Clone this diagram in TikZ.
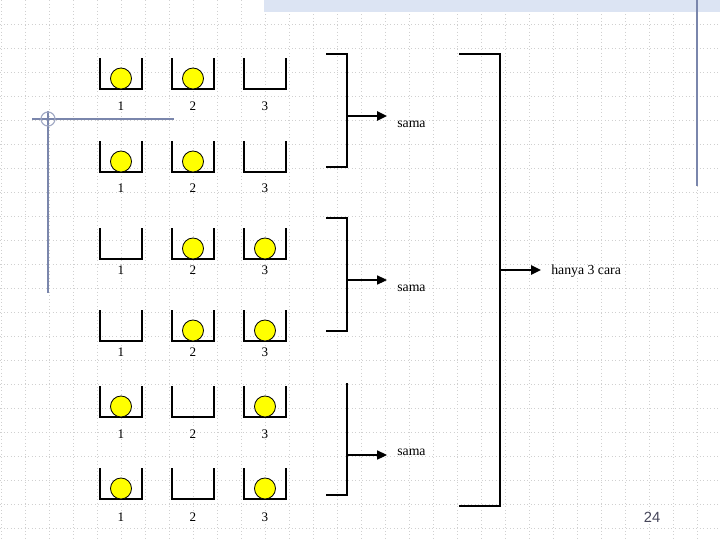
\documentclass[tikz,border=0pt]{standalone}
\usepackage{fontspec}
\setmainfont{Liberation Serif}
\newfontfamily\pagefont{Liberation Sans}
\usetikzlibrary{arrows.meta, positioning, calc}
\definecolor{ballyellow}{RGB}{255,255,0}
\definecolor{gridgray}{RGB}{208,208,208}
\definecolor{slateblue}{RGB}{122,134,172}
\definecolor{barblue}{RGB}{220,228,243}
\definecolor{pagegray}{RGB}{70,70,90}

\begin{document}
\begin{tikzpicture}[x=0.025cm, y=-0.025cm,
    every node/.style={font=\fontsize{9.8}{11}\selectfont, inner sep=0pt},
    numlbl/.style={font=\fontsize{9.3}{10}\selectfont},
    bucketline/.style={line width=0.75pt},
    ball/.style={draw, line width=0.6pt, fill=ballyellow},
    bracketline/.style={line width=0.75pt},
    thinarrow/.style={-{Triangle[length=7pt, width=6.5pt]}, line width=0.75pt},
    thickarrow/.style={-{Triangle[length=7pt, width=6.5pt]}, line width=1.3pt},
    deco/.style={draw=slateblue, line width=0.8pt}]
  \useasboundingbox (0,0) rectangle (720,540);
  % slide background
  \foreach \gx in {1,25,...,697}
    \draw[gridgray, dotted, line width=0.5pt] (\gx,0) -- (\gx,540);
  \foreach \gy in {24,48,...,528}
    \draw[gridgray, dotted, line width=0.5pt] (0,\gy) -- (720,\gy);
  \fill[barblue] (264,0) rectangle (720,12);
  \draw[deco] (32,119) -- (174,119);
  \draw[deco] (48,111) -- (48,293);
  \draw[deco, slateblue!70] (48,119) circle[radius=7];
  \draw[deco] (697,0) -- (697,186);
  % buckets with balls
  \foreach \yb/\yl/\fa/\fb/\fc [count=\r] in {89/106/1/1/0, 172/188/1/1/0,
      259/270/0/1/1, 341/352/0/1/1, 417/434/1/0/1, 499/517/1/0/1} {
    \foreach \c/\f in {1/\fa, 2/\fb, 3/\fc} {
      \pgfmathsetmacro\xl{100+72*(\c-1)}
      \draw[bucketline] (\xl,\yb-31) -- (\xl,\yb) -- (\xl+42,\yb) -- (\xl+42,\yb-31);
      \ifnum\f=1
        \draw[ball] (\xl+21,\yb-10.5) circle[radius=10.5];
      \fi
      \node[numlbl] (n\r\c) at (\xl+21,\yl) {\c};
    }
  }
  % pair brackets
  \draw[bracketline] (326,54) -- (347,54) -- (347,167) -- (326,167);
  \draw[bracketline] (326,218) -- (347,218) -- (347,331) -- (326,331);
  \draw[bracketline] (347,383) -- (347,495) -- (326,495);
  \coordinate (b1) at (347,116);
  \coordinate (t1) at (387,116);
  \coordinate (b2) at (347,280);
  \coordinate (t2) at (387,280);
  \coordinate (b3) at (347,455);
  \coordinate (t3) at (387,455);
  \draw[thickarrow] (b1) -- (t1);
  \draw[thinarrow] (b2) -- (t2);
  \draw[thinarrow] (b3) -- (t3);
  \node[anchor=base west] (s1) at (397,127) {sama};
  \node[anchor=base west] (s2) at (397,291) {sama};
  \node[anchor=base west] (s3) at (397,455) {sama};
  % big bracket
  \draw[bracketline] (459,54) -- (500,54) -- (500,506) -- (459,506);
  \coordinate (bb) at (500,270);
  \coordinate (tb) at (541,270);
  \draw[thickarrow] (bb) -- (tb);
  \node[anchor=base west] (hc) at (551,274) {hanya 3 cara};
  \node[font=\pagefont\fontsize{10.5}{12}\selectfont, text=pagegray] (pg) at (652,517) {24};
\end{tikzpicture}
\end{document}
